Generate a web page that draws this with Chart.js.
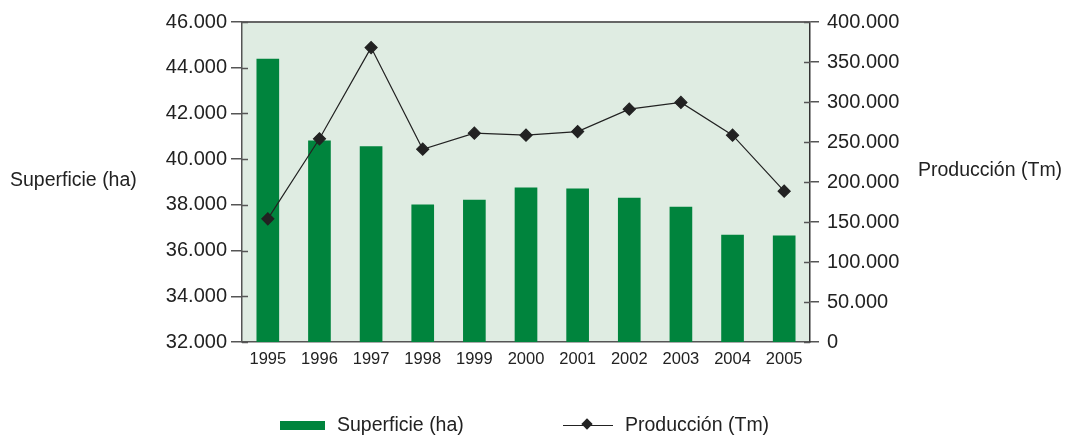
<!DOCTYPE html>
<html>
<head>
<meta charset="utf-8">
<script src="https://cdn.jsdelivr.net/npm/chart.js@4.4.1/dist/chart.umd.min.js"></script>
<style>
  body { margin: 0; background: #fff; }
  #wrap { position: relative; width: 1066px; height: 437px; font-family: "Liberation Sans", Arial, sans-serif; color: #222; }
  .lbl { position: absolute; font-size: 19.5px; white-space: nowrap; }
  .sw { position: absolute; }
</style>
</head>
<body>
<div id="wrap">
  <canvas id="c" width="1066" height="437"></canvas>
  <div class="lbl" style="left:10px; top:168px;">Superficie (ha)</div>
  <div class="lbl" style="left:918px; top:158px;">Producción (Tm)</div>
  <div class="sw" style="left:280px; top:421px; width:45px; height:9px; background:#00843d;"></div>
  <div class="lbl" style="left:337px; top:413px;">Superficie (ha)</div>
  <div class="sw" style="left:563px; top:425px; width:50px; height:1px; background:#222;"></div>
  <div class="sw" style="left:583px; top:420px; width:8px; height:8px; background:#222; transform:rotate(45deg);"></div>
  <div class="lbl" style="left:625px; top:413px;">Producción (Tm)</div>
</div>
<script>
// datos
const years = ['1995', '1996', '1997', '1998', '1999', '2000', '2001', '2002', '2003', '2004', '2005'];
const superficie = [44380, 40800, 40550, 38000, 38210, 38740, 38700, 38300, 37900, 36680, 36640];
const produccion = [154000, 254000, 368000, 241000, 261000, 258500, 263000, 291000, 299500, 258500, 188500];

const fmt = v => String(v).replace(/\B(?=(\d{3})+(?!\d))/g, '.');

const bgPlugin = {
    id: 'bg',
    beforeDraw(chart) {
        const a = chart.chartArea, ctx = chart.ctx;
        ctx.save();
        ctx.fillStyle = '#dfece2';
        ctx.fillRect(a.left, a.top, a.right - a.left, a.bottom - a.top);
        ctx.restore();
    },
    afterDraw(chart) {
        const a = chart.chartArea, ctx = chart.ctx;
        ctx.save();
        ctx.strokeStyle = '#666';
        ctx.lineWidth = 2;
        ctx.beginPath();
        ctx.moveTo(a.left, a.top);
        ctx.lineTo(a.right, a.top);
        ctx.stroke();
        // parte interior de las marcas
        ctx.lineWidth = 1.5;
        ctx.strokeStyle = '#555';
        const yl = chart.scales.y, yr = chart.scales.y1;
        yl.ticks.forEach((t, i) => {
            const p = Math.round(yl.getPixelForTick(i)) + 0.5;
            ctx.beginPath(); ctx.moveTo(a.left, p); ctx.lineTo(a.left + 6, p); ctx.stroke();
        });
        yr.ticks.forEach((t, i) => {
            const p = Math.round(yr.getPixelForTick(i)) + 0.5;
            ctx.beginPath(); ctx.moveTo(a.right - 6, p); ctx.lineTo(a.right, p); ctx.stroke();
        });
        ctx.restore();
    }
};

new Chart(document.getElementById('c'), {
    data: {
        labels: years,
        datasets: [
            {
                type: 'line', label: 'Producción (Tm)', data: produccion, yAxisID: 'y1',
                borderColor: '#222', borderWidth: 1.2, backgroundColor: '#222',
                pointStyle: 'rectRot', pointRadius: 6, pointHoverRadius: 6, tension: 0, order: 0
            },
            {
                type: 'bar', label: 'Superficie (ha)', data: superficie, yAxisID: 'y',
                backgroundColor: '#00843d', barThickness: 22, order: 1
            }
        ]
    },
    options: {
        responsive: false, animation: false,
        layout: { padding: { left: 140, right: 156, top: 22, bottom: 65 } },
        plugins: { legend: { display: false }, tooltip: { enabled: false } },
        scales: {
            x: {
                offset: true,
                grid: { display: false },
                border: { display: true, color: '#555', width: 1.5 },
                ticks: { color: '#222', font: { family: 'Liberation Sans', size: 16.5 }, padding: 0 },
                afterFit: s => { s.height = 30; }
            },
            y: {
                position: 'left', min: 32000, max: 46000,
                grid: { drawOnChartArea: false, tickLength: 11, color: '#555', lineWidth: 1.5 },
                border: { color: '#555', width: 1.5 },
                ticks: { stepSize: 2000, color: '#222', font: { family: 'Liberation Sans', size: 20 }, padding: 4, callback: v => fmt(v) },
                afterFit: s => { s.width = 102; }
            },
            y1: {
                position: 'right', min: 0, max: 400000,
                grid: { drawOnChartArea: false, tickLength: 9, color: '#555', lineWidth: 1.5 },
                border: { color: '#333', width: 1.5 },
                ticks: { stepSize: 50000, color: '#222', font: { family: 'Liberation Sans', size: 20 }, padding: 8, callback: v => fmt(v) },
                afterFit: s => { s.width = 100; }
            }
        }
    },
    plugins: [bgPlugin]
});
</script>
</body>
</html>
